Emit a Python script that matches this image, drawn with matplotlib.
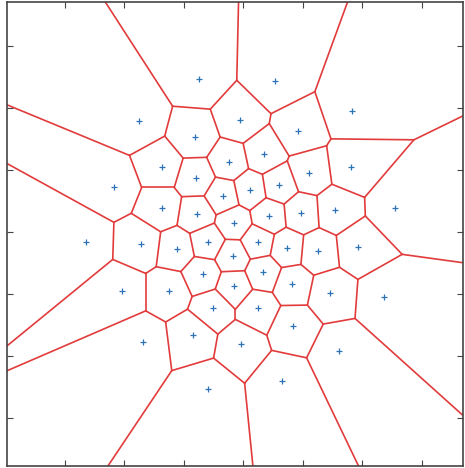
import numpy as np
import matplotlib
matplotlib.use("Agg")
import matplotlib.pyplot as plt
import matplotlib.tri as mtri

# Seed points (tick units)
x_pts = [3.25, 4.53, 5.82, 2.24, 1.82, 6.55, 1.35, 6.36, 1.97, 2.31,
         5.61, 3.40, 4.65, 3.18, 3.94, 4.92, 2.63, 5.81, 2.63, 5.54,
         2.28, 5.92, 2.75, 5.45, 3.15, 4.83, 3.96, 3.76, 4.34, 3.20,
         5.10, 3.66, 4.11, 4.60, 3.22, 3.84, 4.43, 4.97, 2.88, 3.40,
         4.24, 4.73, 5.25, 3.82, 3.32, 4.33, 3.84, 4.82, 3.49, 4.24]
y_pts = [6.47, 6.44, 5.95, 5.79, 4.73, 4.39, 3.84, 2.95, 3.05, 2.23,
         2.08, 1.47, 1.60, 5.53, 5.81, 5.63, 5.05, 5.05, 4.39, 4.35,
         3.81, 3.76, 3.05, 3.02, 2.34, 2.48, 2.19, 5.13, 5.26, 4.87,
         4.95, 4.58, 4.68, 4.76, 4.29, 4.15, 4.26, 4.31, 3.73, 3.84,
         3.84, 3.74, 3.69, 3.61, 3.32, 3.35, 3.13, 3.16, 2.77, 2.77]

x_limits = (0.03, 7.69)
y_limits = (0.23, 7.71)
tick_vals = [1, 2, 3, 4, 5, 6, 7]

pts = np.column_stack([x_pts, y_pts])
tri = mtri.Triangulation(pts[:, 0], pts[:, 1])


def circumcenter(a, b, c):
    d = 2 * (a[0] * (b[1] - c[1]) + b[0] * (c[1] - a[1]) + c[0] * (a[1] - b[1]))
    ux = ((a @ a) * (b[1] - c[1]) + (b @ b) * (c[1] - a[1]) + (c @ c) * (a[1] - b[1])) / d
    uy = ((a @ a) * (c[0] - b[0]) + (b @ b) * (a[0] - c[0]) + (c @ c) * (b[0] - a[0])) / d
    return np.array([ux, uy])


centers = np.array([circumcenter(*pts[t]) for t in tri.triangles])
mid_all = pts.mean(axis=0)
far = np.ptp(pts, axis=0).max() * 10

segments = []
for ti, t in enumerate(tri.triangles):
    for j in range(3):
        nb = tri.neighbors[ti][j]
        p1, p2 = pts[t[j]], pts[t[(j + 1) % 3]]
        if nb == -1:
            tang = (p2 - p1) / np.linalg.norm(p2 - p1)
            normal = np.array([-tang[1], tang[0]])
            mid = (p1 + p2) / 2
            direction = np.sign(np.dot(mid - mid_all, normal)) * normal
            segments.append((centers[ti], centers[ti] + direction * far))
        elif nb > ti:
            segments.append((centers[ti], centers[nb]))

fig = plt.figure(figsize=(4.65, 4.68), dpi=100)
ax = fig.add_axes([7 / 465, 2 / 468, 456 / 465, 464 / 468])

for a, b in segments:
    ax.plot([a[0], b[0]], [a[1], b[1]], color="#e23b3b", lw=1.2, solid_capstyle="round")

ax.plot(x_pts, y_pts, "+", color="#2f72b8", markersize=5, mew=0.9)

ax.set_xlim(*x_limits)
ax.set_ylim(*y_limits)
ax.set_xticks(tick_vals)
ax.set_yticks(tick_vals)
ax.set_xticklabels([])
ax.set_yticklabels([])
ax.tick_params(direction="in", length=4, width=0.8, color="#444444",
               top=True, right=True)
for s in ax.spines.values():
    s.set_color("#444444")
    s.set_linewidth(1.2)

fig.savefig("out.png", dpi=100)
